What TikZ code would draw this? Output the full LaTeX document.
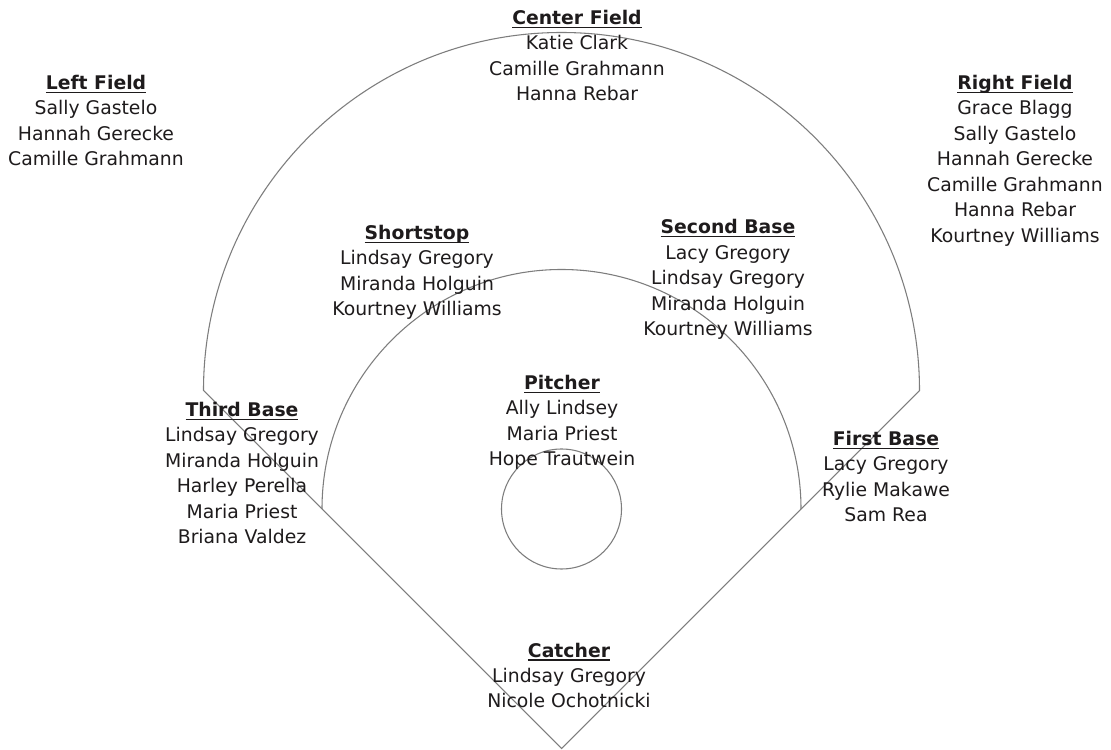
\documentclass[tikz,border=0pt]{standalone}
\usepackage{fontspec}
\setmainfont{DejaVu Sans}
\definecolor{txt}{RGB}{30,27,28}
\definecolor{fieldline}{RGB}{125,125,125}
\newcommand\fieldtitle[1]{\setbox0=\hbox{\bfseries #1}\rlap{\rule[-2.8pt]{\wd0}{1.1pt}}\box0}
\begin{document}
\begin{tikzpicture}[x=0.75pt,y=0.75pt,
  posbox/.style={align=center,text=txt,inner sep=0pt,font=\fontsize{14.1}{19.1}\selectfont},
  fline/.style={draw=fieldline,line width=0.8pt,line join=miter}]
\useasboundingbox (0,0) rectangle (1111,750);
\fill[white] (0,0) rectangle (1111,750);
% field geometry
\coordinate (home) at (561.5,1.5);
\coordinate (leftpole) at (203.5,359.5);
\coordinate (rightpole) at (919.5,359.5);
\coordinate (thirdcut) at (322,241);
\coordinate (mound) at (561.5,241);
\draw[fline] (home) -- (leftpole) arc[start angle=180,end angle=0,radius=358] -- cycle;
\draw[fline] (thirdcut) arc[start angle=180,end angle=0,radius=239.5];
\draw[fline] (mound) circle[radius=60];
% positions
\node[posbox] (lf) at (96,629.5) {\fieldtitle{Left Field}\\Sally Gastelo\\Hannah Gerecke\\Camille Grahmann};
\node[posbox] (cf) at (577,694.5) {\fieldtitle{Center Field}\\Katie Clark\\Camille Grahmann\\Hanna Rebar};
\node[posbox] (rf) at (1015,589.5) {\fieldtitle{Right Field}\\Grace Blagg\\Sally Gastelo\\Hannah Gerecke\\Camille Grahmann\\Hanna Rebar\\Kourtney Williams};
\node[posbox] (ss) at (417,477.5) {\fieldtitle{Shortstop}\\Lindsay Gregory\\Miranda Holguin\\Kourtney Williams};
\node[posbox] (2b) at (728,470.5) {\fieldtitle{Second Base}\\Lacy Gregory\\Lindsay Gregory\\Miranda Holguin\\Kourtney Williams};
\node[posbox] (p) at (562,327.5) {\fieldtitle{Pitcher}\\Ally Lindsey\\Maria Priest\\Hope Trautwein};
\node[posbox] (3b) at (242,277) {\fieldtitle{Third Base}\\Lindsay Gregory\\Miranda Holguin\\Harley Perella\\Maria Priest\\Briana Valdez};
\node[posbox] (1b) at (886,273.5) {\fieldtitle{First Base}\\Lacy Gregory\\Rylie Makawe\\Sam Rea};
\node[posbox] (c) at (569,74.5) {\fieldtitle{Catcher}\\Lindsay Gregory\\Nicole Ochotnicki};
\end{tikzpicture}
\end{document}
